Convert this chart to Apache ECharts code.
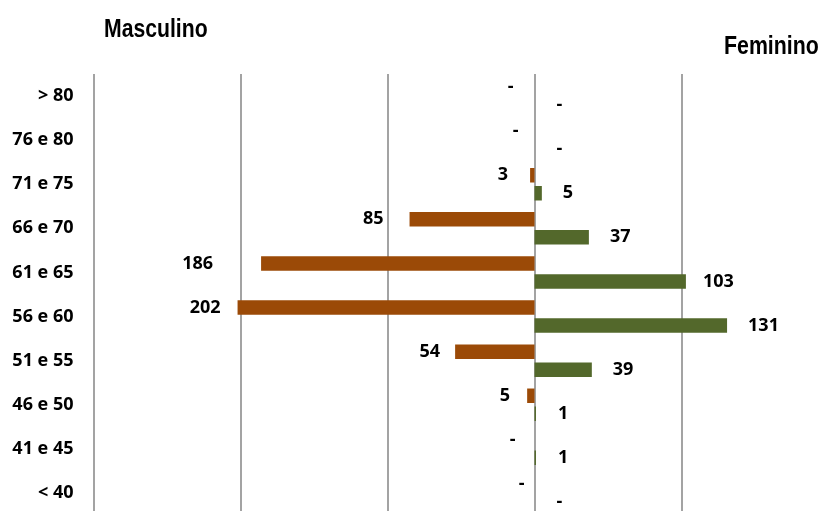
<!DOCTYPE html>
<html>
<head>
<meta charset="utf-8">
<style>
  html, body { margin: 0; padding: 0; background: #ffffff; }
  #chart { width: 824px; height: 511px; }
</style>
<script src="https://cdn.jsdelivr.net/npm/echarts@6/dist/echarts.min.js"></script>
</head>
<body>
<div id="chart"></div>
<script>
// Age groups, top to bottom
const ageGroups = ['> 80', '76 e 80', '71 e 75', '66 e 70', '61 e 65', '56 e 60', '51 e 55', '46 e 50', '41 e 45', '< 40'];
// Head counts per age group
const masculino = [0, 0, 3, 85, 186, 202, 54, 5, 0, 0];
const feminino = [0, 0, 5, 37, 103, 131, 39, 1, 1, 0];
// Value axis range (male side drawn as negative)
const axisMin = -300;
const axisMax = 200;
const axisStep = 100;

// Hand-tuned label distances from the bar ends (px)
const maleLabelGap = [21, 16, 22, 26, 48, 17, 15, 17, 19, 10];
const femaleLabelGap = [22, 22, 21, 21, 17, 21, 21, 22, 22, 22];

const labelFont = { fontFamily: '"Open Sans", sans-serif', fontWeight: 'bold', fontSize: 18, color: '#000000', padding: [3, 0, 0, 0] };
const fmt = p => (p.value === 0 ? '-' : String(Math.abs(p.value)));
const headFont = 'bold 26px "Liberation Sans", Arial, sans-serif';

const chart = echarts.init(document.getElementById('chart'), null, { renderer: 'canvas' });

chart.setOption({
  animation: false,
  backgroundColor: '#ffffff',
  // Side headings, condensed horizontally
  graphic: [
    { type: 'text', x: 104, y: 17, scaleX: 0.815, style: { text: 'Masculino', font: headFont, fill: '#000000', verticalAlign: 'top' } },
    { type: 'text', x: 724, y: 34, scaleX: 0.82, style: { text: 'Feminino', font: headFont, fill: '#000000', verticalAlign: 'top' } }
  ],
  grid: { left: 93.5, right: -4.5, top: 74, bottom: -4, containLabel: false, outerBoundsMode: 'none' },
  xAxis: {
    type: 'value',
    min: axisMin, max: axisMax, interval: axisStep,
    axisLine: { show: false }, axisTick: { show: false }, axisLabel: { show: false },
    splitLine: { show: true, lineStyle: { color: '#a3a3a3', width: 2 } }
  },
  yAxis: {
    type: 'category', inverse: true, data: ageGroups,
    axisLine: { show: false }, axisTick: { show: false },
    axisLabel: Object.assign({ margin: 20 }, labelFont),
    splitLine: { show: false }
  },
  series: [
    {
      name: 'Masculino', type: 'bar',
      barWidth: 14.5, barGap: '24%',
      itemStyle: { color: '#9b4a07' },
      label: Object.assign({ show: true, position: 'left', formatter: fmt }, labelFont),
      data: masculino.map((v, i) => ({ value: -v, label: { distance: maleLabelGap[i] } }))
    },
    {
      name: 'Feminino', type: 'bar',
      barWidth: 14.5, barGap: '24%',
      itemStyle: { color: '#53682b' },
      label: Object.assign({ show: true, position: 'right', formatter: fmt }, labelFont),
      data: feminino.map((v, i) => ({ value: v, label: { distance: femaleLabelGap[i] } }))
    }
  ]
});
</script>
</body>
</html>
